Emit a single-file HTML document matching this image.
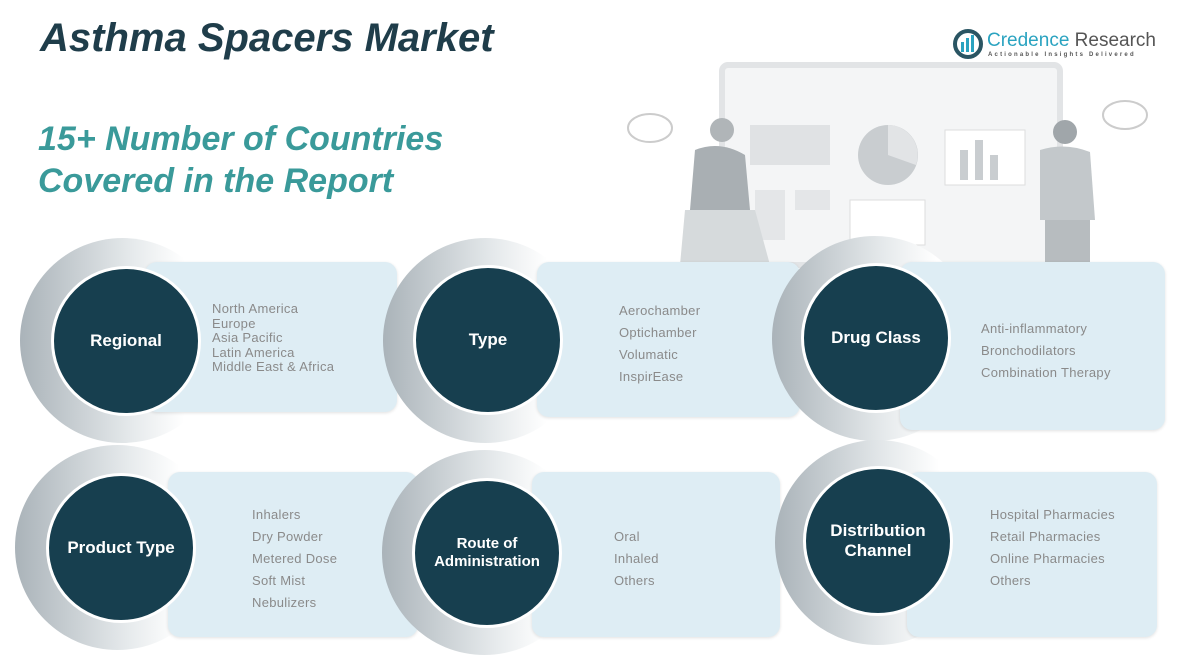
<!DOCTYPE html>
<html><head><meta charset="utf-8"><style>
body{margin:0;width:1192px;height:657px;background:#fff;position:relative;overflow:hidden;font-family:"Liberation Sans",sans-serif}
.t{position:absolute;font-weight:bold;font-style:italic}
.panel{position:absolute;background:#deedf4;border-radius:12px;box-shadow:0 1px 3px rgba(0,0,0,.12)}
.cres{position:absolute;border-radius:50%;background:linear-gradient(90deg,#aab3b9,#e6eaec 55%,#fff 80%)}
.circ{position:absolute;width:150px;height:150px;border-radius:50%;background:#173f4f;border:3px solid #fff;box-sizing:border-box;color:#fff;font-weight:bold;font-size:17px;display:flex;align-items:center;justify-content:center;text-align:center;line-height:1.2}
.list{position:absolute;color:#8a8a8a;font-size:13px;letter-spacing:.3px}
</style></head><body>
<div class="t" style="left:40px;top:16px;font-size:40px;color:#1f3d4a">Asthma Spacers Market</div>
<div class="t" style="left:38px;top:118px;font-size:34px;color:#3a9a9a;line-height:42px">15+ Number of Countries<br>Covered in the Report</div>
<svg style="position:absolute;left:952px;top:28px" width="32" height="32"><circle cx="16" cy="16" r="13" fill="none" stroke="#2a5563" stroke-width="4"/><rect x="9" y="14" width="3" height="10" fill="#2aa3c0"/><rect x="14" y="10" width="3" height="14" fill="#2aa3c0"/><rect x="19" y="7" width="3" height="17" fill="#2aa3c0"/></svg>
<div style="position:absolute;left:987px;top:30px;font-size:19px;color:#2aa3c0">Credence <span style="color:#555">Research</span></div>
<div style="position:absolute;left:988px;top:52px;font-size:6px;color:#555;letter-spacing:2.2px;font-weight:bold">Actionable Insights Delivered</div>
<svg style="position:absolute;left:620px;top:60px" width="560" height="210">
<rect x="102" y="5" width="338" height="200" rx="6" fill="#f4f5f6" stroke="#e2e4e6" stroke-width="6"/>
<rect x="130" y="65" width="80" height="40" fill="#e0e2e4"/><rect x="135" y="130" width="30" height="50" fill="#e4e6e8"/><rect x="175" y="130" width="35" height="20" fill="#e4e6e8"/>
<circle cx="268" cy="95" r="30" fill="#c9cdd0"/><path d="M268 95 L268 65 A30 30 0 0 1 296 105Z" fill="#e2e4e6"/>
<rect x="230" y="140" width="75" height="45" fill="#fff" stroke="#ddd"/>
<rect x="325" y="70" width="80" height="55" fill="#fff" stroke="#ddd"/><rect x="340" y="90" width="8" height="30" fill="#c9cdd0"/><rect x="355" y="80" width="8" height="40" fill="#c9cdd0"/><rect x="370" y="95" width="8" height="25" fill="#c9cdd0"/>
<circle cx="102" cy="70" r="12" fill="#b0b5b8"/><path d="M75 90 Q100 80 125 95 L130 150 L70 150Z" fill="#a9afb3"/><path d="M65 150 L135 150 L150 205 L60 205Z" fill="#d6dadc"/>
<circle cx="445" cy="72" r="12" fill="#a0a6aa"/><path d="M420 90 Q445 82 470 92 L475 160 L420 160Z" fill="#c3c8cb"/><rect x="425" y="160" width="45" height="45" fill="#b7bcbf"/>
<ellipse cx="30" cy="68" rx="22" ry="14" fill="none" stroke="#ccc" stroke-width="2"/><ellipse cx="505" cy="55" rx="22" ry="14" fill="none" stroke="#ccc" stroke-width="2"/>
</svg>
<div class="cres" style="left:20px;top:238px;width:205px;height:205px"></div>
<div class="panel" style="left:145px;top:262px;width:252px;height:150px"></div>
<div class="circ" style="left:51px;top:266px">Regional</div>
<div class="list" style="left:212px;top:302px;line-height:14.5px">North America<br>Europe<br>Asia Pacific<br>Latin America<br>Middle East &amp; Africa</div>

<div class="cres" style="left:383px;top:238px;width:205px;height:205px"></div>
<div class="panel" style="left:537px;top:262px;width:263px;height:155px"></div>
<div class="circ" style="left:413px;top:265px">Type</div>
<div class="list" style="left:619px;top:300px;line-height:22px">Aerochamber<br>Optichamber<br>Volumatic<br>InspirEase</div>

<div class="cres" style="left:772px;top:236px;width:205px;height:205px"></div>
<div class="panel" style="left:900px;top:262px;width:265px;height:168px"></div>
<div class="circ" style="left:801px;top:263px">Drug Class</div>
<div class="list" style="left:981px;top:318px;line-height:22px">Anti-inflammatory<br>Bronchodilators<br>Combination Therapy</div>

<div class="cres" style="left:15px;top:445px;width:205px;height:205px"></div>
<div class="panel" style="left:168px;top:472px;width:250px;height:165px"></div>
<div class="circ" style="left:46px;top:473px">Product Type</div>
<div class="list" style="left:252px;top:504px;line-height:22px">Inhalers<br>Dry Powder<br>Metered Dose<br>Soft Mist<br>Nebulizers</div>

<div class="cres" style="left:382px;top:450px;width:205px;height:205px"></div>
<div class="panel" style="left:532px;top:472px;width:248px;height:165px"></div>
<div class="circ" style="left:412px;top:478px;font-size:15px">Route of<br>Administration</div>
<div class="list" style="left:614px;top:526px;line-height:22px">Oral<br>Inhaled<br>Others</div>

<div class="cres" style="left:775px;top:440px;width:205px;height:205px"></div>
<div class="panel" style="left:907px;top:472px;width:250px;height:165px"></div>
<div class="circ" style="left:803px;top:466px">Distribution<br>Channel</div>
<div class="list" style="left:990px;top:504px;line-height:22px">Hospital Pharmacies<br>Retail Pharmacies<br>Online Pharmacies<br>Others</div>
</body></html>
